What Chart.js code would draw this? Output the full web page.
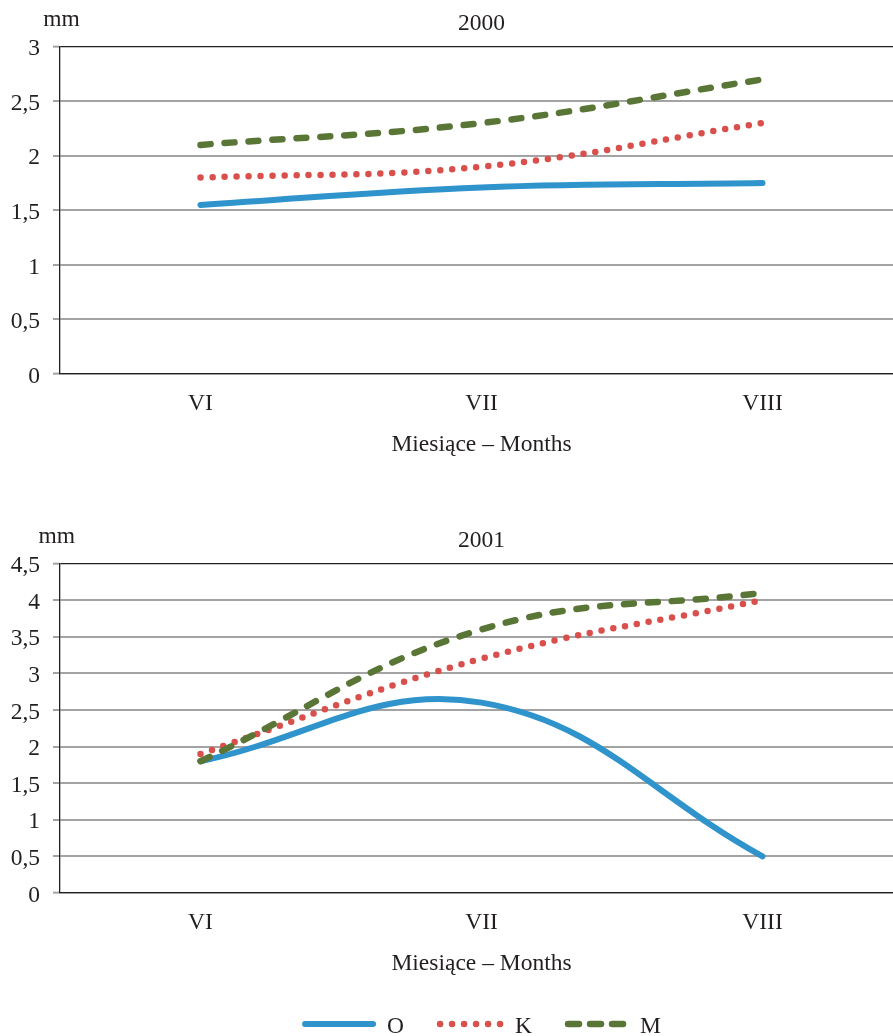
<!DOCTYPE html>
<html><head><meta charset="utf-8">
<script src="https://cdn.jsdelivr.net/npm/chart.js@4"></script>
<style>
html,body{margin:0;padding:0;background:#fff;overflow:hidden;}
#wrap{position:relative;width:893px;height:1036px;overflow:hidden;background:#fff;}
canvas{position:absolute;left:0;}
</style></head><body>
<div id="wrap">
<canvas id="c1" width="963" height="480" style="top:0"></canvas>
<canvas id="c2" width="963" height="556" style="top:480px"></canvas>
</div>
<script>
// ---- data ----
const categories = ['VI', 'VII', 'VIII'];
const seriesNames = ['O', 'K', 'M'];
const o2000 = [1.55, 1.71, 1.75];
const k2000 = [1.8, 1.9, 2.3];
const m2000 = [2.1, 2.3, 2.7];
const o2001 = [1.8, 2.6, 0.5];
const k2001 = [1.9, 3.2, 4.0];
const m2001 = [1.8, 3.6, 4.1];
const ticks2000 = [0, 0.5, 1, 1.5, 2, 2.5, 3];
const ticks2001 = [0, 0.5, 1, 1.5, 2, 2.5, 3, 3.5, 4, 4.5];
const title2000 = '2000';
const title2001 = '2001';
const xTitle = 'Miesiące – Months';
const unitLabel = 'mm';

// ---- styles ----
const FONT = "'Liberation Serif', 'Times New Roman', serif";
const FS = 23.5;
const TEXT = '#231f20';
const GRID = '#a3a3a3';
const seriesStyles = [
  {color: '#2f93cc', width: 6, dash: [], legendDash: [], sample: 74, order: 3},
  {color: '#d94f4c', width: 6.5, dash: [0, 12], legendDash: [0, 12], sample: 67, order: 2},
  {color: '#5a7636', width: 6.5, dash: [10, 14], legendDash: [11, 11], sample: 64, order: 1}
];

function makeDatasets(values) {
  return values.map((v, i) => ({
    label: seriesNames[i],
    data: v,
    borderColor: seriesStyles[i].color,
    backgroundColor: seriesStyles[i].color,
    borderWidth: seriesStyles[i].width,
    borderDash: seriesStyles[i].dash,
    borderCapStyle: 'round',
    borderJoinStyle: 'round',
    tension: 0.4,
    pointRadius: 0,
    pointHoverRadius: 0,
    fill: false,
    order: seriesStyles[i].order
  }));
}

const textPlugin = {
  id: 'texts',
  afterDraw(chart, args, opts) {
    const {ctx, chartArea: a} = chart;
    const cx = (a.left + a.right) / 2;
    ctx.save();
    ctx.fillStyle = TEXT;
    ctx.font = FS + 'px ' + FONT;
    ctx.textAlign = 'center';
    ctx.textBaseline = 'alphabetic';
    ctx.fillText(opts.title, cx, a.top - 17);
    ctx.fillText(unitLabel, opts.unitX, a.top - 21);
    ctx.fillText(xTitle, cx, a.bottom + 77);
    if (opts.legend) {
      const gapText = 11, gapItem = 33;
      const widths = seriesNames.map(n => ctx.measureText(n).width);
      let total = 0;
      seriesNames.forEach((n, i) => {
        total += seriesStyles[i].sample + gapText + widths[i] + (i < seriesNames.length - 1 ? gapItem : 0);
      });
      let x = cx - total / 2;
      const ly = a.bottom + 131;
      const ty = a.bottom + 140;
      seriesNames.forEach((n, i) => {
        const st = seriesStyles[i];
        ctx.save();
        ctx.strokeStyle = st.color;
        ctx.lineWidth = st.width;
        ctx.lineCap = 'round';
        ctx.setLineDash(st.legendDash);
        ctx.beginPath();
        ctx.moveTo(x + 3, ly);
        ctx.lineTo(x + st.sample - 3, ly);
        ctx.stroke();
        ctx.restore();
        x += st.sample + gapText;
        ctx.textAlign = 'left';
        ctx.fillText(n, x, ty);
        x += widths[i] + gapItem;
      });
    }
    ctx.restore();
  }
};

function makeChart(id, values, tickList, title, padTop, xHeight, unitX, legend) {
  const maxV = tickList[tickList.length - 1];
  const isBlack = c => c.tick && (c.tick.value === 0 || c.tick.value === maxV);
  return new Chart(document.getElementById(id), {
    type: 'line',
    data: {labels: categories, datasets: makeDatasets(values)},
    plugins: [textPlugin],
    options: {
      responsive: false,
      animation: false,
      devicePixelRatio: 1,
      layout: {padding: {top: padTop, left: 0, right: 60, bottom: 0}},
      plugins: {
        legend: {display: false},
        tooltip: {enabled: false},
        title: {display: false},
        texts: {title: title, unitX: unitX, legend: legend}
      },
      scales: {
        x: {
          offset: true,
          grid: {display: false, drawTicks: false},
          border: {display: true, color: TEXT, width: 1.3},
          ticks: {font: {family: FONT, size: FS}, color: TEXT, padding: 16, maxRotation: 0, autoSkip: false},
          afterFit: s => { s.height = xHeight; }
        },
        y: {
          min: 0,
          max: maxV,
          afterBuildTicks: s => { s.ticks = tickList.map(v => ({value: v})); },
          afterFit: s => { s.width = 60; },
          ticks: {
            font: {family: FONT, size: FS}, color: TEXT, padding: 13, labelOffset: 2.5,
            callback: v => String(v).replace('.', ',')
          },
          grid: {
            color: c => isBlack(c) ? TEXT : GRID,
            lineWidth: c => isBlack(c) ? 1.3 : 2,
            tickColor: GRID,
            tickWidth: 2,
            tickLength: 7
          },
          border: {display: true, color: TEXT, width: 1.3}
        }
      }
    }
  });
}

makeChart('c1', [o2000, k2000, m2000], ticks2000, title2000, 46.7, 106, 61.5, false);
makeChart('c2', [o2001, k2001, m2001], ticks2001, title2001, 83.5, 143, 56.7, true);
</script>
</body></html>
